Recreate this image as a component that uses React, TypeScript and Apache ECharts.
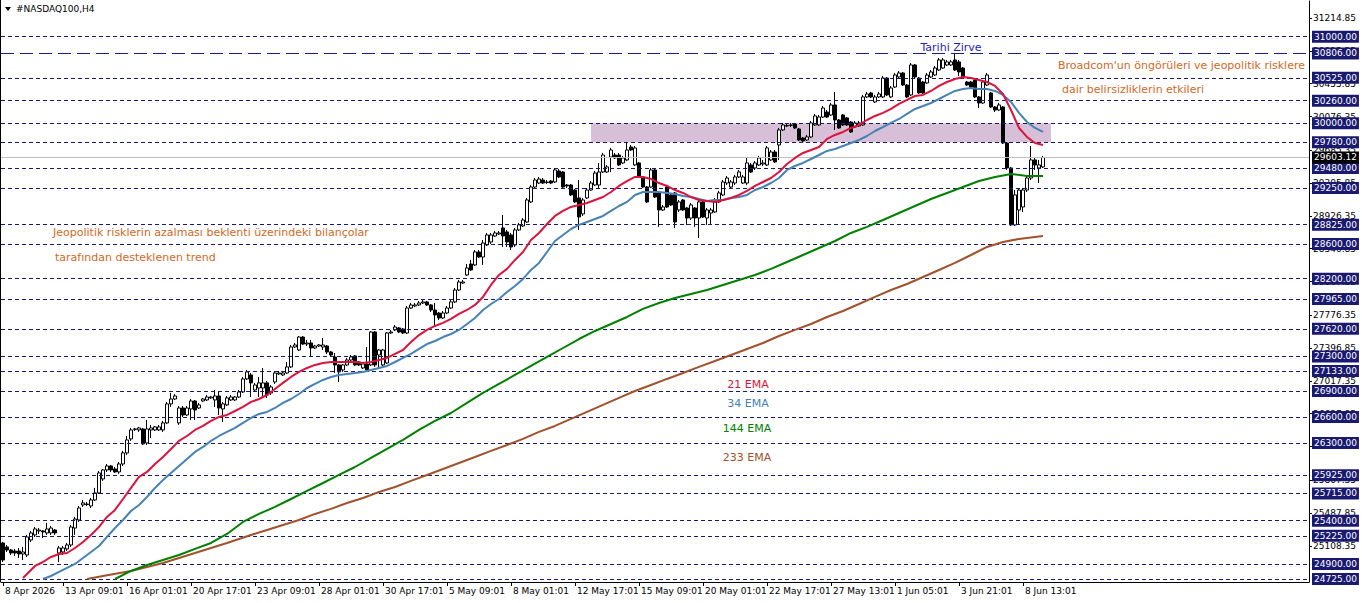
import React, { useEffect, useRef } from "react";
import * as echarts from "echarts";

// ---------- data ----------
const slotCount = 327;
const xTickIndex = [0, 15, 31, 47, 63, 79, 95, 111, 127, 143, 159, 175, 191, 207, 223, 239, 255];
const xTickLabels = ["8 Apr 2026", "13 Apr 09:01", "16 Apr 01:01", "20 Apr 17:01", "23 Apr 09:01", "28 Apr 01:01", "30 Apr 17:01", "5 May 09:01", "8 May 01:01", "12 May 17:01", "15 May 09:01", "20 May 01:01", "22 May 17:01", "27 May 13:01", "1 Jun 05:01", "3 Jun 21:01", "8 Jun 13:01"];

// [open, close, low, high]
const ohlc = [
[25142,24945,24922,25154],[25096,25061,25038,25119],[25061,25026,25003,25073],[25049,25026,24992,25073],[25049,25015,24968,25084],
[25015,25038,24945,25096],[25003,25212,24980,25235],[25177,25258,25154,25281],[25235,25304,25212,25327],[25281,25292,25246,25315],
[25281,25269,25200,25292],[25258,25304,25235,25373],[25258,25315,25235,25339],[25292,25258,25235,25304],[25026,25084,24922,25107],
[25038,25084,25003,25107],[25073,25119,25049,25142],[25119,25327,25096,25350],[25315,25419,25235,25443],[25408,25547,25385,25570],
[25582,25605,25559,25640],[25593,25587,25570,25617],[25570,25640,25547,25663],[25640,25721,25628,25779],[25721,25952,25710,25975],
[25883,25987,25860,25998],[25987,26033,25964,26056],[26033,25987,25964,26045],[25998,25964,25952,26021],[25964,26056,25941,26079],
[26056,26184,26033,26207],[26184,26334,26161,26380],[26346,26450,26323,26473],[26456,26461,26438,26473],[26450,26473,26427,26485],
[26461,26288,26276,26473],[26299,26461,26276,26565],[26450,26473,26357,26508],[26450,26485,26438,26496],[26450,26485,26438,26508],
[26450,26531,26427,26554],[26531,26751,26519,26774],[26751,26808,26716,26878],[26808,26843,26797,26866],[26531,26704,26508,26727],
[26704,26623,26600,26727],[26623,26704,26612,26727],[26693,26785,26565,26808],[26785,26681,26565,26797],[26704,26739,26693,26762],
[26785,26808,26774,26820],[26797,26831,26785,26854],[26820,26831,26808,26843],[26797,26843,26716,26912],[26843,26704,26623,26900],
[26693,26751,26542,26774],[26739,26820,26727,26843],[26797,26831,26785,26854],[26797,26831,26785,26843],[26831,26889,26820,26912],
[26889,27040,26878,27063],[27040,27121,27028,27144],[27086,26994,26831,27109],[26912,26970,26900,26994],[26935,26994,26831,27063],
[26935,26994,26820,27167],[26994,26854,26820,27017],[26878,26947,26854,26970],[27005,27109,26982,27132],[27098,27109,27086,27132],
[27086,27109,27074,27132],[27109,27179,27098,27236],[27179,27410,27167,27433],[27410,27433,27398,27456],[27375,27525,27364,27537],
[27525,27444,27433,27537],[27444,27456,27421,27491],[27456,27398,27294,27491],[27398,27421,27387,27433],[27421,27433,27410,27444],
[27410,27433,27375,27514],[27421,27352,27329,27433],[27352,27317,27294,27364],[27294,27202,27109,27340],[27202,27121,27005,27213],
[27144,27202,27121,27213],[27202,27259,27190,27283],[27259,27294,27248,27317],[27306,27202,27190,27317],[27236,27202,27190,27248],
[27167,27213,27155,27225],[27213,27144,27132,27410],[27202,27583,27190,27595],[27583,27202,27179,27595],[27317,27375,27167,27387],
[27202,27375,27190,27387],[27225,27572,27213,27583],[27572,27583,27560,27607],[27607,27641,27595,27664],[27630,27583,27572,27641],
[27618,27572,27560,27630],[27572,27861,27560,27884],[27861,27896,27850,27919],[27884,27896,27873,27919],[27896,27919,27884,27942],
[27919,27931,27907,27954],[27931,27896,27884,27942],[27896,27838,27815,27907],[27838,27780,27641,27919],[27803,27745,27722,27815],
[27745,27803,27734,27826],[27803,27861,27792,27884],[27861,27931,27850,27954],[27931,28069,27919,28092],[28069,28162,28058,28185],
[28150,28162,28139,28185],[28243,28324,28231,28370],[28370,28301,28289,28417],[28359,28509,28347,28532],[28509,28451,28440,28532],
[28451,28613,28359,28648],[28590,28706,28579,28729],[28625,28706,28602,28729],[28694,28729,28683,28752],[28717,28729,28706,28752],
[28787,28694,28567,28937],[28741,28625,28567,28764],[28706,28567,28532,28729],[28590,28764,28567,28787],[28764,28822,28752,28845],
[28810,28879,28799,28902],[28856,29111,28845,29134],[29088,29261,29076,29284],[29261,29342,29249,29365],[29307,29353,29296,29377],
[29342,29307,29296,29365],[29319,29313,29296,29342],[29330,29307,29296,29342],[29319,29458,29307,29481],[29446,29377,29365,29469],
[29435,29261,29249,29446],[29284,29273,29249,29296],[29284,29169,29157,29296],[29226,29088,29076,29238],[29134,28914,28764,29342],
[28949,29111,28926,29134],[29134,29226,29122,29249],[29226,29307,29215,29330],[29284,29423,29273,29446],[29284,29435,29249,29539],
[29435,29631,29423,29655],[29435,29493,29423,29516],[29608,29689,29435,29713],[29631,29597,29585,29655],[29631,29516,29504,29655],
[29539,29597,29527,29620],[29574,29689,29562,29782],[29724,29689,29678,29747],[29516,29713,29504,29736],[29539,29377,29365,29551],
[29377,29261,29249,29388],[29261,29088,29076,29273],[29261,29458,29249,29481],[29458,29145,29134,29469],[29192,28995,28799,29203],
[28995,29030,28984,29053],[29261,29030,29018,29284],[29169,29053,29041,29180],[29192,28856,28787,29203],[28995,29088,28972,29111],
[29111,28995,28984,29122],[29018,28902,28822,29030],[28902,29053,28879,29076],[29018,28902,28799,29030],[28902,29088,28671,29111],
[29088,28914,28902,29111],[28902,28995,28822,29018],[28960,28995,28822,29018],[28972,29111,28960,29134],[29088,29192,29076,29215],
[29169,29319,29157,29342],[29307,29365,29284,29388],[29261,29319,29249,29342],[29307,29377,29284,29400],[29377,29435,29365,29458],
[29307,29377,29296,29400],[29307,29539,29284,29608],[29516,29435,29423,29539],[29481,29539,29458,29562],[29516,29597,29504,29620],
[29527,29539,29504,29574],[29516,29713,29504,29736],[29574,29666,29562,29689],[29666,29551,29539,29689],[29747,29921,29574,29944],
[29921,29979,29909,30002],[29967,29973,29955,29990],[29973,29979,29955,30002],[29990,29944,29932,30002],[29932,29805,29793,29944],
[29828,29793,29782,29840],[29805,29840,29793,29863],[29840,30002,29828,30025],[29979,30083,29967,30106],[29979,30071,29967,30094],
[30071,30175,30060,30198],[30129,30071,30060,30152],[30094,30210,30083,30233],[30210,30036,29921,30361],[30036,29944,29932,30048],
[30094,29979,29967,30106],[30060,29979,29967,30071],[30013,29898,29886,30025],[29955,30002,29944,30025],[29967,30002,29955,30025],
[29979,30303,29967,30326],[30303,30337,30291,30361],[30349,30303,30291,30361],[30245,30303,30233,30326],[30303,30337,30291,30361],
[30303,30522,30291,30546],[30522,30326,30314,30534],[30303,30407,30291,30430],[30418,30557,30407,30580],[30534,30580,30522,30603],
[30580,30441,30430,30592],[30441,30303,30291,30453],[30326,30673,30314,30696],[30673,30534,30522,30684],[30522,30349,30337,30534],
[30476,30349,30337,30488],[30465,30557,30453,30580],[30534,30592,30522,30615],[30557,30638,30546,30661],[30615,30731,30603,30754],
[30638,30731,30627,30754],[30673,30708,30661,30731],[30673,30708,30661,30731],[30731,30615,30603,30812],[30708,30592,30546,30731],
[30638,30534,30522,30650],[30476,30441,30430,30488],[30476,30418,30407,30488],[30499,30303,30291,30511],[30303,30233,30175,30314],
[30233,30476,30222,30499],[30441,30557,30430,30580],[30349,30187,30175,30361],[30187,30152,30129,30198],[30152,30210,30141,30233],
[30187,29770,29759,30198],[29770,29481,29458,29782],[29481,28822,28810,29493],[28822,29169,28810,29226],[28995,29226,28822,29249],
[29030,29226,28972,29249],[29226,29365,29203,29388],[29365,29574,29342,29736],[29574,29516,29458,29597],[29481,29516,29307,29574],
[29493,29603.12,29481,29620]
];

// EMA values read at bar index: [barIndex, value]
const ema21 = [[5,24737],[8,24876],[10,24922],[12,24980],[14,25015],[16,25026],[18,25084],[20,25154],[22,25235],[24,25327],[26,25443],[28,25524],[30,25651],[32,25779],[34,25906],[36,25964],[38,26056],[40,26137],[42,26230],[44,26323],[46,26380],[48,26450],[50,26496],[52,26554],[54,26600],[56,26623],[58,26669],[60,26716],[62,26774],[64,26808],[66,26854],[68,26924],[70,26994],[72,27063],[74,27121],[76,27167],[78,27202],[80,27225],[82,27236],[84,27236],[86,27236],[88,27236],[90,27225],[92,27236],[94,27259],[96,27283],[98,27329],[100,27375],[102,27467],[104,27548],[106,27607],[108,27653],[110,27688],[112,27734],[114,27792],[116,27838],[118,27896],[120,27989],[122,28127],[124,28243],[126,28313],[128,28417],[130,28509],[132,28648],[134,28729],[136,28833],[138,28926],[140,28984],[142,29030],[144,29053],[146,29076],[148,29111],[150,29145],[152,29203],[154,29273],[156,29330],[158,29377],[160,29377],[162,29354],[164,29307],[166,29273],[168,29226],[170,29192],[172,29145],[174,29111],[176,29099],[178,29088],[180,29111],[182,29134],[184,29169],[186,29215],[188,29273],[190,29319],[192,29365],[194,29435],[196,29527],[198,29597],[200,29655],[202,29689],[204,29724],[206,29817],[208,29863],[210,29898],[212,29944],[214,29979],[216,30036],[218,30083],[220,30118],[222,30164],[224,30222],[226,30268],[228,30314],[230,30326],[232,30372],[234,30430],[236,30476],[238,30511],[240,30534],[242,30522],[244,30499],[246,30476],[248,30430],[250,30337],[252,30152],[254,29944],[256,29840],[258,29770],[260,29747]];
const ema34 = [[10,24725],[12,24760],[14,24807],[16,24853],[18,24899],[20,24968],[22,25038],[24,25107],[26,25212],[28,25315],[30,25408],[32,25512],[34,25582],[36,25674],[38,25779],[40,25871],[42,25952],[44,26033],[46,26114],[48,26195],[50,26253],[52,26323],[54,26380],[56,26427],[58,26473],[60,26531],[62,26588],[64,26635],[66,26658],[68,26704],[70,26762],[72,26808],[74,26866],[76,26935],[78,26982],[80,27028],[82,27063],[84,27086],[86,27098],[88,27109],[90,27121],[92,27144],[94,27167],[96,27190],[98,27236],[100,27283],[102,27329],[104,27387],[106,27444],[108,27479],[110,27525],[112,27560],[114,27607],[116,27676],[118,27745],[120,27838],[122,27907],[124,27965],[126,28046],[128,28116],[130,28197],[132,28301],[134,28382],[136,28509],[138,28636],[140,28706],[142,28775],[144,28822],[146,28856],[148,28891],[150,28926],[152,28984],[154,29041],[156,29088],[158,29169],[160,29203],[162,29203],[164,29203],[166,29192],[168,29180],[170,29157],[172,29145],[174,29122],[176,29099],[178,29111],[180,29111],[182,29134],[184,29145],[186,29169],[188,29226],[190,29261],[192,29307],[194,29365],[196,29458],[198,29504],[200,29539],[202,29585],[204,29631],[206,29678],[208,29701],[210,29736],[212,29770],[214,29805],[216,29851],[218,29909],[220,29955],[222,30002],[224,30048],[226,30106],[228,30164],[230,30198],[232,30233],[234,30279],[236,30326],[238,30372],[240,30395],[242,30407],[244,30395],[246,30395],[248,30372],[250,30326],[252,30245],[254,30118],[256,30013],[258,29944],[260,29898]];
const ema144 = [[28,24725],[32,24818],[36,24887],[40,24945],[44,25003],[48,25073],[52,25142],[56,25246],[60,25385],[64,25478],[68,25559],[72,25651],[76,25744],[80,25836],[84,25929],[88,26021],[92,26126],[96,26230],[100,26334],[104,26450],[108,26554],[112,26646],[116,26762],[120,26878],[124,26982],[128,27086],[132,27190],[136,27294],[140,27398],[144,27502],[148,27595],[152,27676],[156,27757],[160,27850],[164,27919],[168,27977],[172,28023],[176,28069],[180,28127],[184,28185],[188,28243],[192,28313],[196,28393],[200,28474],[204,28555],[208,28636],[212,28729],[216,28799],[220,28879],[224,28960],[228,29041],[232,29122],[236,29192],[240,29261],[244,29330],[248,29377],[252,29412],[256,29388],[260,29388]];
const ema233 = [[21,24725],[25,24760],[32,24818],[40,24911],[48,25026],[56,25142],[62,25235],[66,25292],[70,25350],[74,25408],[78,25478],[82,25536],[86,25605],[90,25663],[94,25732],[98,25790],[102,25860],[106,25929],[110,25998],[114,26068],[118,26137],[122,26207],[126,26276],[130,26346],[134,26427],[138,26496],[142,26577],[146,26658],[150,26739],[154,26820],[158,26900],[162,26970],[166,27040],[170,27109],[174,27179],[178,27248],[182,27317],[186,27387],[190,27456],[194,27537],[198,27607],[202,27676],[206,27757],[210,27826],[214,27907],[218,27989],[222,28069],[226,28139],[230,28220],[234,28301],[238,28382],[242,28474],[246,28567],[250,28625],[254,28660],[258,28683],[260,28694]];

const levelLines = [31000, 30525, 30260, 30000, 29780, 29480, 29250, 28825, 28600, 28200, 27965, 27620, 27300, 27133, 26900, 26600, 26300, 25925, 25715, 25400, 25225, 24900, 24725];
const athLevel = 30806;
const lastPrice = 29603.12;
const scaleTicks = [31214.85, 30835.35, 30455.85, 30076.35, 29685.35, 29305.85, 28926.35, 28546.85, 28167.35, 27776.35, 27396.85, 27017.35, 26637.85, 26258.35, 25867.35, 25487.85, 25108.35];
const zoneLow = 29780;
const zoneHigh = 30000;
const zoneFromBar = 147;
const zoneToBar = 262;
const yMin = 24690.4;
const yMax = 31413.1;

const FONT = "DejaVu Sans";
const NAVY = "#191970";
const ORANGE = "#d2691e";
const HIDDEN_LINE = { color: "rgba(0,0,0,0)", width: 0 };

export default function App() {
  const ref = useRef<HTMLDivElement>(null);
  useEffect(() => {
    document.body.style.margin = "0";
    if (!ref.current) return;
    const chart = echarts.init(ref.current, undefined, { renderer: "svg" });
    const categories = Array.from({ length: slotCount }, (_, i) => String(i));
    const labelMap: Record<number, string> = {};
    xTickIndex.forEach((idx, k) => (labelMap[idx] = xTickLabels[k]));
    const showTick = (i: number) => labelMap[i] !== undefined;
    const fmt = (p: any) => Number(p.value).toFixed(2);

    const emaSeries = (name: string, data: number[][], color: string) => ({
      name, type: "line", data, showSymbol: false, symbol: "none", z: 5, silent: true,
      lineStyle: { color, width: 2 }, clip: true,
    });

    const option: any = {
      animation: false,
      backgroundColor: "#ffffff",
      grid: { left: 1, right: 53, top: 1, bottom: 21 },
      xAxis: {
        type: "category", data: categories, boundaryGap: true,
        axisLine: { show: true, lineStyle: { color: "#000", width: 1 } },
        axisTick: { show: true, alignWithLabel: true, interval: (i: number) => showTick(i), length: 4, lineStyle: { color: "#000" } },
        axisLabel: {
          interval: (i: number) => showTick(i), formatter: (_v: string, i: number) => labelMap[i] ?? "",
          align: "left", margin: 4, padding: [0, 0, 0, 2], color: "#000", fontSize: 9, fontFamily: FONT,
        },
        splitLine: { show: false },
      },
      yAxis: {
        type: "value", position: "right", min: yMin, max: yMax,
        axisLine: { show: true, lineStyle: { color: "#000", width: 1 } },
        axisTick: { show: true, customValues: scaleTicks, length: 3, lineStyle: { color: "#000" } },
        axisLabel: { show: false }, splitLine: { show: false },
      },
      series: [
        {
          name: "levels", type: "line", data: [], z: 1, silent: true,
          markArea: {
            silent: true, itemStyle: { color: "#d8bfd8" },
            data: [[{ xAxis: zoneFromBar, yAxis: zoneHigh }, { xAxis: zoneToBar, yAxis: zoneLow }]],
          },
          markLine: {
            silent: true, symbol: ["none", "none"], label: { show: false },
            lineStyle: { color: NAVY, width: 1, type: [4, 3] },
            data: [
              ...levelLines.map((v) => ({ yAxis: v })),
              { yAxis: athLevel, lineStyle: { color: "#1c1c8c", width: 1.2, type: [13, 6] } },
              { yAxis: lastPrice, lineStyle: { color: "#c0c0c0", width: 1, type: "solid" } },
            ],
          },
        },
        {
          name: "NASDAQ100", type: "candlestick", data: ohlc, z: 3, barWidth: 3, silent: true,
          itemStyle: { color: "#ffffff", color0: "#000000", borderColor: "#000000", borderColor0: "#000000", borderWidth: 1 },
        },
        emaSeries("233 EMA", ema233, "#a0522d"),
        emaSeries("144 EMA", ema144, "#008000"),
        emaSeries("34 EMA", ema34, "#4682b4"),
        emaSeries("21 EMA", ema21, "#dc143c"),
        {
          name: "scale", type: "line", data: [], z: 8, silent: true, clip: false,
          markLine: {
            silent: true, symbol: ["none", "none"], lineStyle: HIDDEN_LINE,
            label: { show: true, position: "end", distance: 4, formatter: fmt, color: "#000", fontSize: 9, fontFamily: FONT },
            data: scaleTicks.map((v) => ({ yAxis: v })),
          },
        },
        {
          name: "levelLabels", type: "line", data: [], z: 9, silent: true, clip: false,
          markLine: {
            silent: true, symbol: ["none", "none"], lineStyle: HIDDEN_LINE,
            label: {
              show: true, position: "end", distance: 3, formatter: fmt, color: "#fff",
              backgroundColor: NAVY, padding: [1, 2, 0, 2], fontSize: 9, fontFamily: FONT, lineHeight: 11,
            },
            data: [
              ...levelLines.map((v) => ({ yAxis: v })),
              { yAxis: athLevel },
              { yAxis: lastPrice, label: { backgroundColor: "#000000", color: "#ffffff" } },
            ],
          },
        },
      ],
      graphic: [
        { type: "line", shape: { x1: 0.5, y1: 0, x2: 0.5, y2: 582 }, style: { stroke: "#000", lineWidth: 1 }, silent: true },
        { type: "polygon", shape: { points: [[5, 7], [11, 7], [8, 11]] }, style: { fill: "#000" }, silent: true },
        { type: "text", x: 16, y: 9, style: { text: "#NASDAQ100,H4", fill: "#000", font: `9px "${FONT}"`, verticalAlign: "middle" }, silent: true },
        { type: "text", x: 951, y: 47, style: { text: "Tarihi Zirve", fill: "#2222b8", font: `11px "${FONT}"`, align: "center", verticalAlign: "middle" }, silent: true },
        { type: "text", x: 1058, y: 65, style: { text: "Broadcom'un öngörüleri ve jeopolitik risklere", fill: ORANGE, font: `11px "${FONT}"`, verticalAlign: "middle" }, silent: true },
        { type: "text", x: 1062, y: 89, style: { text: "dair belirsizliklerin etkileri", fill: ORANGE, font: `11px "${FONT}"`, verticalAlign: "middle" }, silent: true },
        { type: "text", x: 53, y: 232, style: { text: "Jeopolitik risklerin azalması beklenti üzerindeki bilançolar", fill: ORANGE, font: `11px "${FONT}"`, verticalAlign: "middle" }, silent: true },
        { type: "text", x: 55, y: 257, style: { text: "tarafından desteklenen trend", fill: ORANGE, font: `11px "${FONT}"`, verticalAlign: "middle" }, silent: true },
        { type: "text", x: 748, y: 384, style: { text: "21 EMA", fill: "#dc143c", font: `11px "${FONT}"`, align: "center", verticalAlign: "middle" }, silent: true },
        { type: "text", x: 748, y: 403, style: { text: "34 EMA", fill: "#4682b4", font: `11px "${FONT}"`, align: "center", verticalAlign: "middle" }, silent: true },
        { type: "text", x: 747, y: 428, style: { text: "144 EMA", fill: "#008000", font: `11px "${FONT}"`, align: "center", verticalAlign: "middle" }, silent: true },
        { type: "text", x: 747, y: 457, style: { text: "233 EMA", fill: "#a0522d", font: `11px "${FONT}"`, align: "center", verticalAlign: "middle" }, silent: true },
      ],
    };
    chart.setOption(option);
    return () => chart.dispose();
  }, []);
  return <div ref={ref} style={{ width: 1362, height: 603 }} />;
}
